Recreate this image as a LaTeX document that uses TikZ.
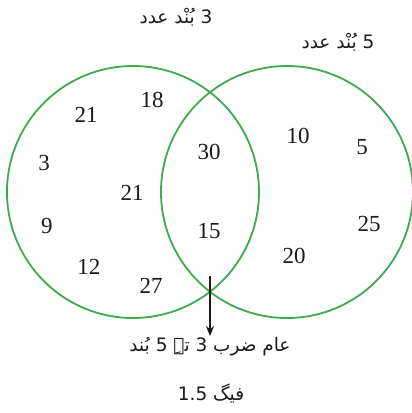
\documentclass[tikz,border=0pt]{standalone}
\usepackage{fontspec}
\setmainfont{Liberation Serif}
\newfontfamily\urdufont[Script=Arabic]{DejaVu Sans}
\TeXXeTstate=1
\usetikzlibrary{arrows.meta,positioning}
\definecolor{vnGreen}{HTML}{3DAA4B}
\definecolor{vnInk}  {HTML}{1A1A1A}
\tikzset{
  setcircle/.style={draw=vnGreen,line width=1.8pt,circle,minimum size=252pt,inner sep=0pt},
  numlabel/.style={font=\fontsize{23}{26}\selectfont,text=vnInk,inner sep=0pt},
  urdulabel/.style={font=\urdufont\fontsize{18.5}{22}\selectfont,text=vnInk,inner sep=1pt}
}
\begin{document}
\begin{tikzpicture}[x=1pt,y=-1pt]
  \useasboundingbox (0,0) rectangle (412,413);
  % the two sets
  \node[setcircle] (setA) at (133,192) {};
  \node[setcircle] (setB) at (287,192) {};
  % set titles
  \node[urdulabel] (titleA) at (176,17) {\beginR 3 بُنْد عدد\endR};
  \node[urdulabel] (titleB) at (338,42) {\beginR 5 بُنْد عدد\endR};
  % members of the multiples of 3 only
  \node[numlabel] (a1) at (86,115)  {21};
  \node[numlabel] (a2) at (152,100) {18};
  \node[numlabel] (a3) at (44,163)  {3};
  \node[numlabel] (a4) at (132,193) {21};
  \node[numlabel] (a5) at (47,226)  {9};
  \node[numlabel] (a6) at (89,267)  {12};
  \node[numlabel] (a7) at (151,286) {27};
  % common part
  \node[numlabel] (c1) at (209,152) {30};
  \node[numlabel] (c2) at (209,231) {15};
  % members of the multiples of 5 only
  \node[numlabel] (b1) at (298,136) {10};
  \node[numlabel] (b2) at (362,147) {5};
  \node[numlabel] (b3) at (369,224) {25};
  \node[numlabel] (b4) at (294,256) {20};
  % pointer to the common multiples
  \coordinate (arrowtop) at (210,276);
  \node[urdulabel,anchor=north] (common) at (210,336) {\beginR عام ضرب 3 تہِ 5 بُند\endR};
  \draw[-{Stealth[length=10pt,width=8pt]},line width=1.1pt,vnInk] (arrowtop) -- (common.north);
  \node[urdulabel] (figlabel) at (211,394) {\beginR فیگ \beginL1.5\endL\endR};
\end{tikzpicture}
\end{document}
